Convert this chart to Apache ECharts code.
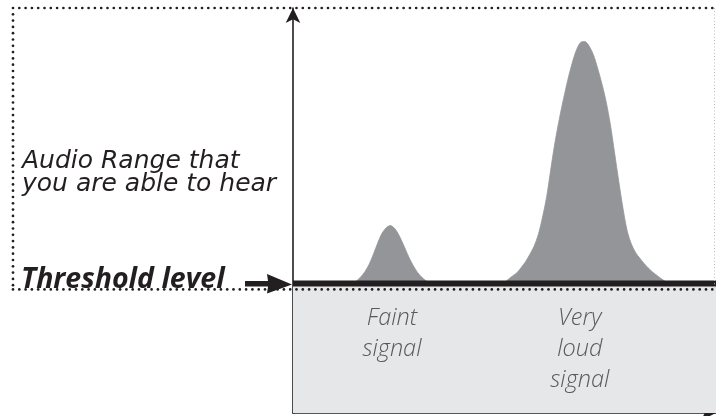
<!DOCTYPE html>
<html><head><meta charset="utf-8">
<script src="https://cdn.jsdelivr.net/npm/echarts@6/dist/echarts.min.js"></script>
<style>html,body{margin:0;padding:0;background:#fff}#c{width:716px;height:416px}</style>
</head><body><div id="c"></div>
<script>
// ---- data ----
const faintFreq  = [14, 15, 16, 17, 18, 19, 20, 21, 22, 23, 24, 25, 26, 27, 28, 29, 30, 31, 32, 33];
const faintLevel = [0, 0.6, 1.6, 2.9, 4.7, 7.2, 9.9, 12.3, 13.7, 14.3, 13.6, 12.0, 9.8, 7.4, 5.2, 3.4, 2.0, 1.0, 0.3, 0];
const loudFreq  = [49, 50, 51, 52, 53, 54, 55, 56, 57, 58, 59, 60, 61, 62, 63, 64, 65, 66, 67, 68, 69, 70, 71, 72, 73, 74, 75, 76, 77, 78, 79, 80, 81, 82, 83, 84, 85, 86, 87, 88, 89];
const loudLevel = [0, 0.3, 1.1, 1.9, 2.7, 4.0, 5.4, 7.2, 9.2, 12.1, 16.4, 21.6, 28.6, 35.2, 40.8, 45.8, 50.4, 54.4, 57.6, 59.5, 59.7, 58.6, 56.5, 53.2, 49.4, 45.0, 39.4, 32.4, 25.3, 18.6, 13.0, 9.7, 7.6, 6.2, 4.9, 3.8, 2.8, 2.0, 1.2, 0.5, 0];
const thresholdLevel = 0;
const freqRange = [0, 100];
const levelRange = [-32, 68];
const rangeLabel = ['Audio Range that', 'you are able to hear'];
const thresholdLabel = 'Threshold level';
const faintLabel = ['Faint', 'signal'];
const loudLabel = ['Very', 'loud', 'signal'];
const faintCenter = 23.4;
const loudCenter = 67.8;

// ---- styles ----
const INK = '#231f20', PEAK = '#939598', BELOW = '#e6e7e8', SOFT = '#58595b';
const SANS = '"Open Sans", "Noto Sans", sans-serif';
const WIDE = '"DejaVu Sans", sans-serif';

const chart = echarts.init(document.getElementById('c'), null, {renderer: 'canvas'});
const zip = (xs, ys) => xs.map((x, i) => [x, ys[i]]);
const peak = (name, data) => ({
  name, type: 'line', data, smooth: 0.3, symbol: 'none', z: 3, silent: true,
  lineStyle: {width: 0.8, color: PEAK}, areaStyle: {color: PEAK, opacity: 1}
});

chart.setOption({
  animation: false,
  grid: {left: 293, right: 0, top: 8, bottom: 3},
  xAxis: {
    type: 'value', min: freqRange[0], max: freqRange[1],
    axisLine: {onZero: false, lineStyle: {color: INK, width: 1.6}, symbol: ['none', 'arrow'], symbolSize: [11, 15]},
    axisTick: {show: false}, axisLabel: {show: false}, splitLine: {show: false}
  },
  yAxis: {
    type: 'value', min: levelRange[0], max: levelRange[1],
    axisLine: {show: true, lineStyle: {color: INK, width: 1.6}, symbol: ['none', 'arrow'], symbolSize: [11, 15]},
    axisTick: {show: false}, axisLabel: {show: false}, splitLine: {show: false}
  },
  series: [
    {
      type: 'line', data: [], silent: true, z: 1,
      markArea: {silent: true, itemStyle: {color: BELOW}, data: [[{yAxis: levelRange[0]}, {yAxis: thresholdLevel}]]}
    },
    peak('Faint signal', zip(faintFreq, faintLevel)),
    peak('Very loud signal', zip(loudFreq, loudLevel)),
    {
      type: 'line', symbol: 'none', z: 5, silent: true,
      data: [[freqRange[0], thresholdLevel], [freqRange[1], thresholdLevel]],
      lineStyle: {color: INK, width: 6}
    }
  ]
});

const [axisX, zeroY] = chart.convertToPixel({gridIndex: 0}, [freqRange[0], thresholdLevel]);
const faintX = chart.convertToPixel({xAxisIndex: 0}, faintCenter);
const loudX = chart.convertToPixel({xAxisIndex: 0}, loudCenter);
const dotY = zeroY + 6;
const W = 716;

// dotted frame made of small round dots
const dots = [];
const STEP = 6.3, LEFT = 13, TOP = 8, RIGHT = W - 1;
const dot = (x, y) => dots.push({type: 'circle', z: 10, silent: true,
  shape: {cx: x, cy: y, r: 1.35}, style: {fill: INK}});
for (let x = LEFT; x <= RIGHT; x += STEP) { dot(x, TOP); dot(x, dotY); }
for (let y = TOP + STEP; y < dotY - 2; y += STEP) dot(LEFT, y);

chart.setOption({
  graphic: dots.concat([
    {type: 'line', z: 10, silent: true,
     shape: {x1: W - 1.5, y1: 8, x2: W - 1.5, y2: dotY},
     style: {stroke: '#b8b8b8', lineWidth: 1, lineDash: [1, 2.2]}},
    {type: 'polygon', z: 10, silent: true,
     shape: {points: [[245, zeroY - 2.5], [268, zeroY - 2.5], [267, zeroY - 9.5], [axisX - 1, zeroY + 1],
                      [267, zeroY + 10], [268, zeroY + 3], [245, zeroY + 3]]},
     style: {fill: INK}},
    {type: 'text', z: 10, silent: true, x: 22, y: 161.5,
     style: {text: rangeLabel[0], fill: INK, fontFamily: WIDE, fontStyle: 'italic',
             fontSize: 25, textAlign: 'left', textVerticalAlign: 'middle'}},
    {type: 'text', z: 10, silent: true, x: 22, y: 184.5,
     style: {text: rangeLabel[1], fill: INK, fontFamily: WIDE, fontStyle: 'italic',
             fontSize: 25, textAlign: 'left', textVerticalAlign: 'middle'}},
    {type: 'text', z: 11, silent: true, x: 21, y: zeroY - 3.5,
     style: {text: thresholdLabel, fill: INK, fontFamily: SANS, fontStyle: 'italic', fontWeight: 'bold',
             fontSize: 28.5, textAlign: 'left', textVerticalAlign: 'middle'}},
    {type: 'text', z: 10, silent: true, x: faintX, y: 303,
     style: {text: faintLabel.join('\n'), fill: SOFT, fontFamily: SANS, fontStyle: 'italic', fontWeight: 300,
             fontSize: 23.5, lineHeight: 31, textAlign: 'center', textVerticalAlign: 'top'}},
    {type: 'text', z: 10, silent: true, x: loudX, y: 303,
     style: {text: loudLabel.join('\n'), fill: SOFT, fontFamily: SANS, fontStyle: 'italic', fontWeight: 300,
             fontSize: 23.5, lineHeight: 31, textAlign: 'center', textVerticalAlign: 'top'}}
  ])
});
</script>
</body></html>
